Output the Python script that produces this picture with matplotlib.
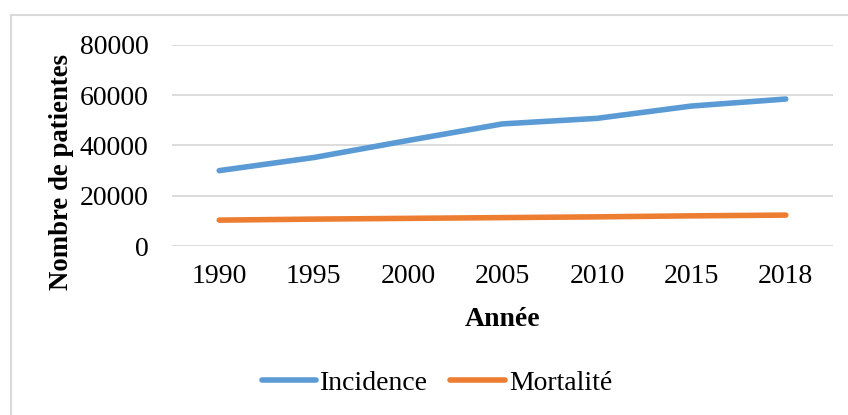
import matplotlib.pyplot as plt
from matplotlib.lines import Line2D

years = ["1990", "1995", "2000", "2005", "2010", "2015", "2018"]
incidence = [30000, 35200, 42000, 48600, 50800, 55700, 58500]
mortalite = [10300, 10700, 11000, 11300, 11600, 12000, 12300]
yticks = [0, 20000, 40000, 60000, 80000]

plt.rcParams["font.family"] = ["Liberation Serif", "DejaVu Serif"]

fig = plt.figure(figsize=(8.48, 4.15), dpi=100)
ax = fig.add_axes([172 / 848, 1 - 246 / 415, (833 - 172) / 848, (246 - 45) / 415])

x = range(len(years))
ax.plot(x, incidence, color="#5B9BD5", lw=4, solid_capstyle="round", label="Incidence")
ax.plot(x, mortalite, color="#ED7D31", lw=4, solid_capstyle="round", label="Mortalité")

ax.set_xlim(-0.5, len(years) - 0.5)
ax.set_ylim(0, 80000)
ax.set_yticks(yticks)
ax.set_yticklabels([str(v) for v in yticks])
ax.set_xticks(list(x))
ax.set_xticklabels(years)
ax.tick_params(length=0, labelsize=20)
ax.tick_params(axis="y", pad=17)
ax.tick_params(axis="x", pad=13)
ax.grid(axis="y", color="#D9D9D9", lw=1.3)
ax.set_axisbelow(True)
for s in ax.spines.values():
    s.set_visible(False)

ax.set_xlabel("Année", fontsize=20, fontweight="bold", labelpad=13)
fig.text(61 / 848, 1 - 172 / 415, "Nombre de patientes", rotation=90,
         fontsize=19.3, fontweight="bold", ha="center", va="center")

# legend
handles = [Line2D([], [], color="#5B9BD5", lw=4, solid_capstyle="round"),
           Line2D([], [], color="#ED7D31", lw=4, solid_capstyle="round")]
fig.legend(handles, ["Incidence", "Mortalité"], loc="center",
           bbox_to_anchor=(437 / 848, 1 - 383 / 415), ncol=2, frameon=False,
           fontsize=20, handlelength=1.95, handletextpad=0.15, columnspacing=0.8)

# outer chart border (only top and left visible)
fig.add_artist(Line2D([10.5 / 848, 1], [1 - 15.5 / 415] * 2, color="#D9D9D9", lw=1.5))
fig.add_artist(Line2D([10.5 / 848] * 2, [0, 1 - 15.5 / 415], color="#D9D9D9", lw=1.5))

fig.savefig("out.png", dpi=100)
